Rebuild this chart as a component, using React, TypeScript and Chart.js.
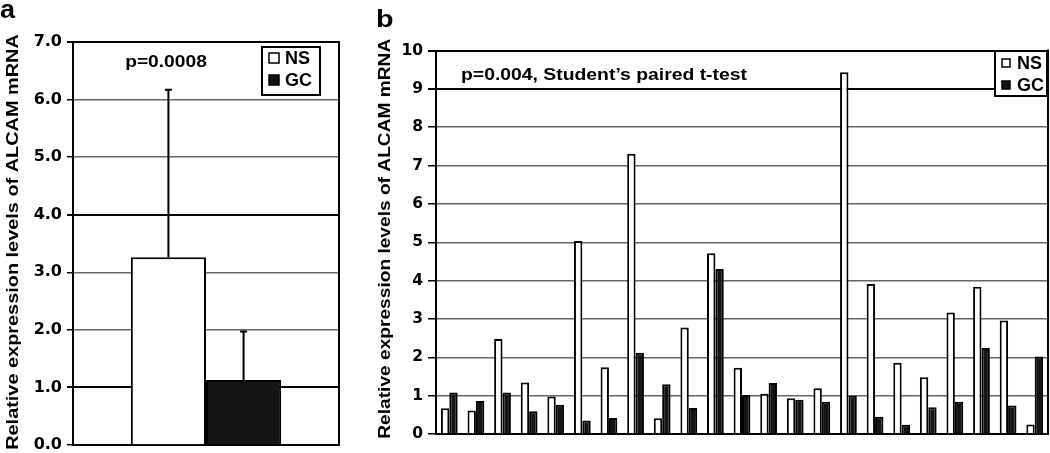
import React, { useEffect, useRef } from 'react';
import { Chart, registerables } from 'chart.js';

Chart.register(...registerables);

// ---------- data ----------
const groupLabels = ['NS', 'GC'];

// panel a: mean +/- SD
const panelACategories = ['ALCAM'];
const panelAMeans = [3.26, 1.13];
const panelASD = [2.91, 0.84];
const panelAMax = 7;
const panelAAnnotation = 'p=0.0008';

// panel b: paired samples
const pairLabels = ['1', '2', '3', '4', '5', '6', '7', '8', '9', '10', '11', '12', '13', '14', '15', '16', '17', '18', '19', '20', '21', '22', '23'];
const nsValues = [0.67, 0.61, 2.48, 1.34, 0.98, 5.03, 1.74, 7.31, 0.41, 2.78, 4.71, 1.73, 1.05, 0.93, 1.19, 9.43, 3.91, 1.86, 1.48, 3.17, 3.84, 2.96, 0.25];
const gcValues = [1.08, 0.86, 1.08, 0.59, 0.76, 0.35, 0.42, 2.12, 1.30, 0.68, 4.30, 1.02, 1.33, 0.89, 0.84, 1.00, 0.45, 0.24, 0.70, 0.84, 2.24, 0.74, 2.02];
const panelBMax = 10;
const panelBAnnotation = 'p=0.004, Student\u2019s paired t-test';

const yTitle = 'Relative expression levels of ALCAM mRNA';

const NS_COLOR = '#ffffff';
const GC_COLOR = '#151515';
const GRID_GRAY = '#666666';
const ARIAL_BOLD = '"Liberation Sans", Arial, sans-serif';

function drawStretched(ctx: CanvasRenderingContext2D, text: string, x: number, y: number, font: string, sx: number, align: 'left' | 'center') {
  ctx.save();
  ctx.font = font;
  ctx.textBaseline = 'alphabetic';
  ctx.textAlign = 'left';
  ctx.fillStyle = '#000';
  const w = ctx.measureText(text).width * sx;
  const left = align === 'center' ? x - w / 2 : x;
  ctx.translate(left, y);
  ctx.scale(sx, 1);
  ctx.fillText(text, 0, 0);
  ctx.restore();
}

// vertical axis title, baseline at x, centred on cy, stretched along its length
function drawAxisTitle(ctx: CanvasRenderingContext2D, text: string, x: number, cy: number, size: number, stretch: number) {
  ctx.save();
  ctx.font = `bold ${size}px ${ARIAL_BOLD}`;
  ctx.fillStyle = '#000';
  ctx.textAlign = 'center';
  ctx.textBaseline = 'alphabetic';
  ctx.translate(x, cy);
  ctx.rotate(-Math.PI / 2);
  ctx.scale(stretch, 1);
  ctx.fillText(text, 0, 0);
  ctx.restore();
}

function drawLegend(chart: any, box: { x: number; y: number; w: number; h: number }, sym: number, symX: number, textX: number, rows: number[]) {
  const ctx = chart.ctx as CanvasRenderingContext2D;
  ctx.save();
  ctx.fillStyle = '#fff';
  ctx.fillRect(box.x, box.y, box.w, box.h);
  ctx.lineWidth = 2;
  ctx.strokeStyle = '#000';
  ctx.strokeRect(box.x, box.y, box.w, box.h);
  chart.data.datasets.forEach((ds: any, i: number) => {
    const cy = box.y + rows[i];
    ctx.fillStyle = ds.backgroundColor;
    ctx.fillRect(box.x + symX, cy - sym / 2, sym, sym);
    ctx.lineWidth = 1.5;
    ctx.strokeStyle = '#000';
    ctx.strokeRect(box.x + symX, cy - sym / 2, sym, sym);
    ctx.fillStyle = '#000';
    ctx.font = `bold 18px ${ARIAL_BOLD}`;
    ctx.textBaseline = 'middle';
    ctx.textAlign = 'left';
    ctx.fillText(ds.label, box.x + textX, cy + 1);
  });
  ctx.restore();
}

function rightBorder(chart: any) {
  const { ctx, chartArea } = chart;
  ctx.save();
  ctx.strokeStyle = '#000';
  ctx.lineWidth = 2;
  ctx.beginPath();
  ctx.moveTo(chartArea.right, chartArea.top - 1);
  ctx.lineTo(chartArea.right, chartArea.bottom + 1);
  ctx.stroke();
  ctx.restore();
}

function PanelA() {
  const ref = useRef<HTMLCanvasElement>(null);
  useEffect(() => {
    const canvas = ref.current!;
    const chart = new Chart(canvas, {
      type: 'bar',
      data: {
        labels: panelACategories,
        datasets: groupLabels.map((g, i) => ({
          label: g,
          data: [panelAMeans[i]],
          backgroundColor: i === 0 ? NS_COLOR : GC_COLOR,
          borderColor: '#000',
          borderWidth: 2,
          categoryPercentage: 0.565,
          barPercentage: 1,
        })),
      },
      options: {
        responsive: false,
        animation: false,
        events: [],
        layout: { padding: { left: 0, top: 42, right: 6, bottom: 8 } },
        plugins: { legend: { display: false }, tooltip: { enabled: false } },
        scales: {
          x: {
            grid: { display: true, drawOnChartArea: false, drawTicks: false },
            ticks: { display: false },
            border: { display: true, color: '#000', width: 2 },
            afterFit: (s: any) => { s.height = 0; },
          },
          y: {
            min: 0,
            max: panelAMax,
            ticks: {
              stepSize: 1,
              color: '#000',
              padding: 5,
              font: { family: '"DejaVu Sans"', weight: 'bold', size: 16 },
              callback: (v: any) => Number(v).toFixed(1),
            },
            grid: {
              tickLength: 6,
              tickColor: '#000',
              color: (c: any) => ([1, 4, 7].includes(c.tick?.value) ? '#000' : GRID_GRAY),
              lineWidth: (c: any) => ([1, 4, 7].includes(c.tick?.value) ? 2 : 1.5),
            },
            border: { display: true, color: '#000', width: 2 },
            title: { display: false, text: yTitle },
            afterFit: (s: any) => { s.width = 73; s.paddingTop = 0; s.paddingBottom = 0; },
          },
        },
      },
      plugins: [
        {
          id: 'errorBars',
          afterDatasetsDraw(ch: any) {
            const ctx = ch.ctx as CanvasRenderingContext2D;
            const yScale = ch.scales.y;
            ctx.save();
            ctx.strokeStyle = '#000';
            ctx.lineWidth = 2;
            ch.data.datasets.forEach((ds: any, i: number) => {
              const meta = ch.getDatasetMeta(i);
              meta.data.forEach((el: any) => {
                const top = yScale.getPixelForValue(panelAMeans[i] + panelASD[i]);
                ctx.beginPath();
                ctx.moveTo(el.x, el.y);
                ctx.lineTo(el.x, top);
                ctx.moveTo(el.x - 3.5, top);
                ctx.lineTo(el.x + 3.5, top);
                ctx.stroke();
              });
            });
            ctx.restore();
          },
        },
        {
          id: 'decor',
          afterDraw(ch: any) {
            rightBorder(ch);
            const ca = ch.chartArea;
            drawLegend(ch, { x: ca.right - 77, y: ca.top + 5, w: 58, h: 48 }, 10, 7, 23, [11, 33]);
            drawStretched(ch.ctx, panelAAnnotation, (ca.left + ca.right) / 2 - 40, ca.top + 25, `bold 16px ${ARIAL_BOLD}`, 1.2, 'center');
            drawStretched(ch.ctx, 'a', 0, 18, `bold 25px ${ARIAL_BOLD}`, 1.08, 'left');
            drawAxisTitle(ch.ctx, yTitle, 17.5, (ca.top + ca.bottom) / 2 - 1.5, 17, 1.17);
          },
        },
      ],
    } as any);
    return () => chart.destroy();
  }, []);
  return <canvas ref={ref} width={345} height={453} style={{ position: 'absolute', left: 0, top: 0, width: 345, height: 453 }} />;
}

function PanelB() {
  const ref = useRef<HTMLCanvasElement>(null);
  useEffect(() => {
    const canvas = ref.current!;
    const series = [nsValues, gcValues];
    const chart = new Chart(canvas, {
      type: 'bar',
      data: {
        labels: pairLabels,
        datasets: groupLabels.map((g, i) => ({
          label: g,
          data: series[i],
          backgroundColor: i === 0 ? NS_COLOR : GC_COLOR,
          borderColor: '#000',
          borderWidth: 2,
          categoryPercentage: 0.63,
          barPercentage: 1,
        })),
      },
      options: {
        responsive: false,
        animation: false,
        events: [],
        layout: { padding: { left: 0, top: 50.5, right: 2, bottom: 19 } },
        plugins: { legend: { display: false }, tooltip: { enabled: false } },
        scales: {
          x: {
            grid: { display: true, drawOnChartArea: false, drawTicks: false },
            ticks: { display: false },
            border: { display: true, color: '#000', width: 2 },
            afterFit: (s: any) => { s.height = 0; },
          },
          y: {
            min: 0,
            max: panelBMax,
            ticks: {
              stepSize: 1,
              color: '#000',
              padding: 5,
              font: { family: '"DejaVu Sans"', weight: 'bold', size: 15.5 },
            },
            grid: {
              tickLength: 8,
              tickColor: '#000',
              color: (c: any) => ([9, 10].includes(c.tick?.value) ? '#000' : GRID_GRAY),
              lineWidth: (c: any) => ([9, 10].includes(c.tick?.value) ? 2 : 1.5),
            },
            border: { display: true, color: '#000', width: 2 },
            title: { display: false, text: yTitle },
            afterFit: (s: any) => { s.width = 66; s.paddingTop = 0; s.paddingBottom = 0; },
          },
        },
      },
      plugins: [
        {
          id: 'decorB',
          afterDraw(ch: any) {
            rightBorder(ch);
            const ca = ch.chartArea;
            drawLegend(ch, { x: ca.right - 53, y: ca.top + 0.5, w: 52, h: 45 }, 8, 7, 22, [12, 34]);
            drawStretched(ch.ctx, panelBAnnotation, ca.left + 25, ca.top + 29.5, `bold 16px ${ARIAL_BOLD}`, 1.21, 'left');
            drawStretched(ch.ctx, 'b', 6, 27, `bold 23px ${ARIAL_BOLD}`, 1.25, 'left');
            drawAxisTitle(ch.ctx, yTitle, 20, (ca.top + ca.bottom) / 2 - 3.5, 16.5, 1.16);
          },
        },
      ],
    } as any);
    return () => chart.destroy();
  }, []);
  return <canvas ref={ref} width={680} height={453} style={{ position: 'absolute', left: 370, top: 0, width: 680, height: 453 }} />;
}

export default function App() {
  return (
    <div style={{ position: 'fixed', left: 0, top: 0, width: 1050, height: 453, background: '#fff', overflow: 'hidden' }}>
      <PanelA />
      <PanelB />
    </div>
  );
}
